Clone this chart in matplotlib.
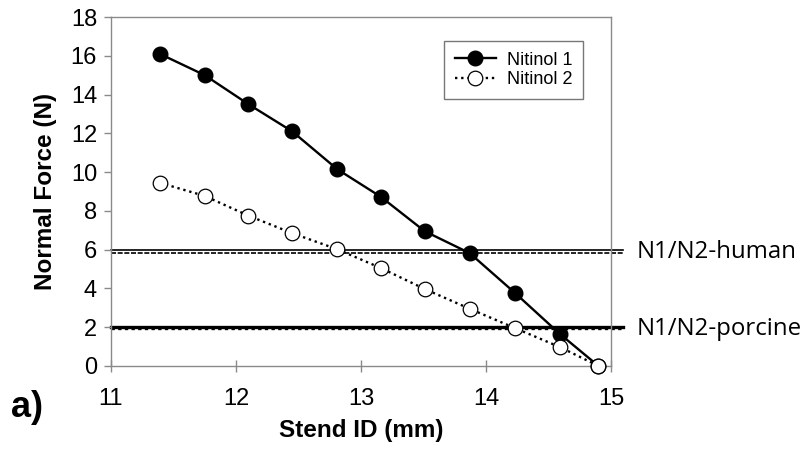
import matplotlib.pyplot as plt

# Stent inner diameter (mm) and measured normal force (N)
stent_id = [11.39, 11.75, 12.10, 12.45, 12.81, 13.16, 13.51, 13.87, 14.23, 14.59, 14.90]
nitinol_1 = [16.1, 15.0, 13.5, 12.1, 10.15, 8.72, 6.95, 5.82, 3.78, 1.66, 0.0]
nitinol_2 = [9.45, 8.77, 7.75, 6.85, 6.02, 5.05, 3.97, 2.95, 1.96, 0.98, 0.0]

# reference force levels (N1 solid, N2 broken)
human_levels = [6.0, 5.83]
porcine_levels = [2.0, 1.95]

plt.rcParams['font.family'] = ['Liberation Sans', 'DejaVu Sans']

fig = plt.figure(figsize=(8.06, 4.51), dpi=100)
ax = fig.add_axes([0.1377, 0.1885, 0.6203, 0.7738])

# horizontal reference lines running past the right edge of the plot
trans = ax.get_yaxis_transform()
ax.plot([0, 1.024], [human_levels[0]] * 2, color='black', lw=1.2,
        transform=trans, clip_on=False, zorder=1)
ax.plot([0, 1.024], [human_levels[1]] * 2, color='black', lw=1.2, ls=(0, (3, 1)),
        transform=trans, clip_on=False, zorder=1)
ax.plot([0, 1.024], [porcine_levels[0]] * 2, color='black', lw=2.4,
        transform=trans, clip_on=False, zorder=1)
ax.plot([0, 1.024], [porcine_levels[1]] * 2, color='black', lw=2.4, ls=(0, (1, 1)),
        transform=trans, clip_on=False, zorder=1)

ax.plot(stent_id, nitinol_1, color='black', lw=1.7, marker='o', ms=10.5,
        mfc='black', mec='black', label='Nitinol 1', zorder=3, clip_on=False)
ax.plot(stent_id, nitinol_2, color='black', lw=1.7, ls=(0, (1, 1.6)), marker='o',
        ms=10.5, mfc='white', mec='black', mew=0.9, label='Nitinol 2', zorder=4,
        clip_on=False)

ax.text(1.052, human_levels[0] - 0.1, 'N1/N2-human', transform=trans,
        family=['Open Sans', 'DejaVu Sans'], fontsize=17.3, va='center', ha='left')
ax.text(1.052, porcine_levels[0] - 0.1, 'N1/N2-porcine', transform=trans,
        family=['Open Sans', 'DejaVu Sans'], fontsize=17.3, va='center', ha='left')

ax.set_xlim(11, 15)
ax.set_ylim(0, 18)
ax.set_xticks([11, 12, 13, 14, 15])
ax.set_yticks(range(0, 19, 2))

for sp in ax.spines.values():
    sp.set_color('#8a8a8a')
    sp.set_linewidth(1.0)
ax.tick_params(axis='both', colors='#8a8a8a', labelcolor='black', labelsize=17,
               length=5, width=1.0)
ax.tick_params(axis='x', direction='inout', pad=12, length=8)
ax.tick_params(axis='y', direction='out', pad=5)

ax.set_xlabel('Stend ID (mm)', fontsize=17.5, fontweight='bold', labelpad=6)
ax.set_ylabel('Normal Force (N)', fontsize=17.5, fontweight='bold', labelpad=10)

leg = ax.legend(loc='upper right', bbox_to_anchor=(0.963, 0.958), fontsize=13,
                frameon=True, fancybox=False, handlelength=2.3, borderpad=0.6,
                labelspacing=0.15, handletextpad=0.6)
leg.get_frame().set_edgecolor('#555555')
leg.get_frame().set_linewidth(1.0)

fig.text(0.014, 0.075, 'a)', fontsize=26, fontweight='bold')

fig.savefig('out.png', dpi=100)
